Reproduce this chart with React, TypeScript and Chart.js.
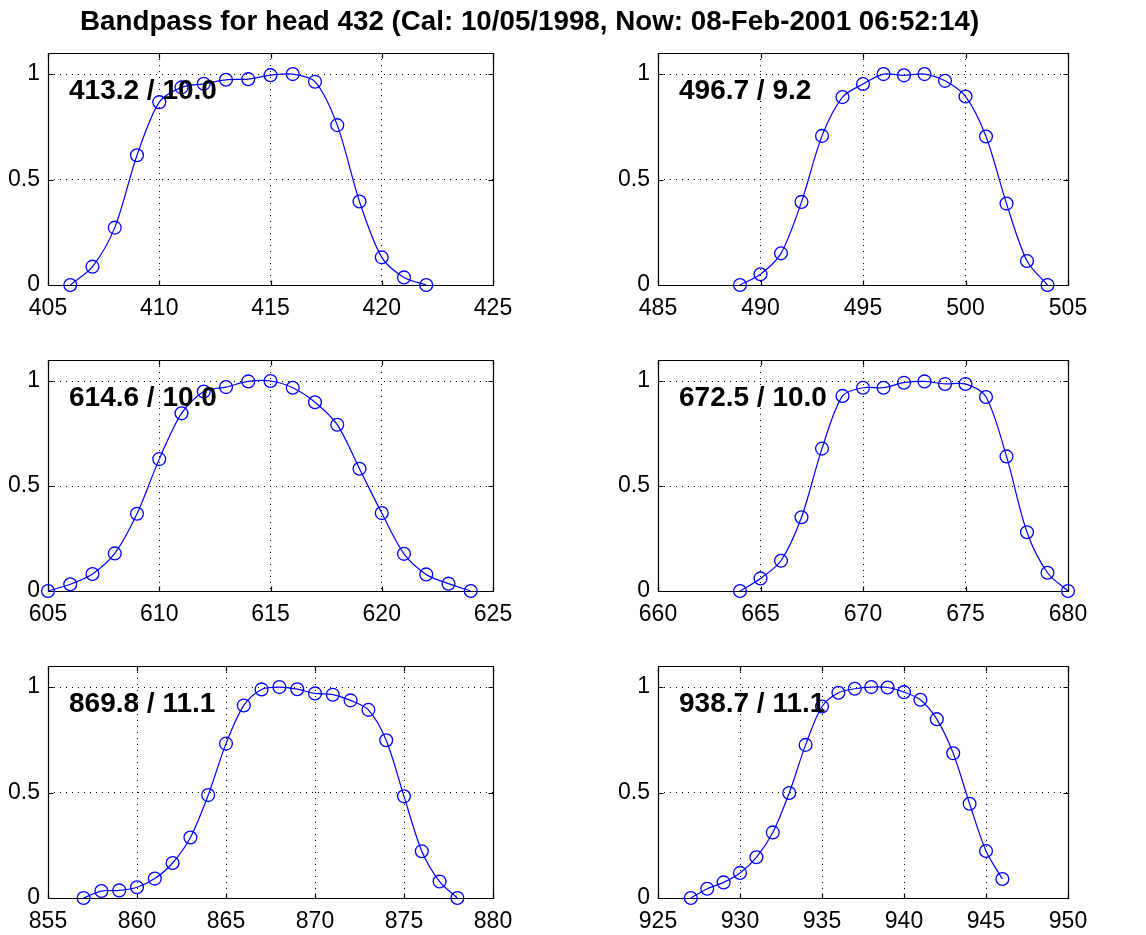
import { useEffect, useRef } from "react";
import { Chart, registerables } from "chart.js";

Chart.register(...registerables);

const TITLE = "Bandpass for head 432 (Cal: 10/05/1998, Now: 08-Feb-2001 06:52:14)";

// Panel 1
const wl1 = [406, 407, 408, 409, 410, 411, 412, 413, 414, 415, 416, 417, 418, 419, 420, 421, 422];
const resp1 = [0, 0.087, 0.272, 0.615, 0.867, 0.937, 0.954, 0.973, 0.976, 0.995, 1.0, 0.964, 0.758, 0.396, 0.131, 0.036, 0];
const xTicks1 = [405, 410, 415, 420, 425];
const label1 = "413.2 / 10.0";

// Panel 2
const wl2 = [489, 490, 491, 492, 493, 494, 495, 496, 497, 498, 499, 500, 501, 502, 503, 504];
const resp2 = [0, 0.051, 0.15, 0.394, 0.707, 0.891, 0.953, 1.0, 0.994, 1.0, 0.968, 0.894, 0.704, 0.386, 0.114, 0];
const xTicks2 = [485, 490, 495, 500, 505];
const label2 = "496.7 / 9.2";

// Panel 3
const wl3 = [605, 606, 607, 608, 609, 610, 611, 612, 613, 614, 615, 616, 617, 618, 619, 620, 621, 622, 623, 624];
const resp3 = [0, 0.032, 0.081, 0.179, 0.368, 0.628, 0.846, 0.95, 0.971, 0.998, 1.0, 0.968, 0.899, 0.792, 0.582, 0.371, 0.177, 0.079, 0.035, 0];
const xTicks3 = [605, 610, 615, 620, 625];
const label3 = "614.6 / 10.0";

// Panel 4
const wl4 = [664, 665, 666, 667, 668, 669, 670, 671, 672, 673, 674, 675, 676, 677, 678, 679, 680];
const resp4 = [0, 0.06, 0.144, 0.351, 0.678, 0.929, 0.968, 0.968, 0.992, 0.998, 0.986, 0.986, 0.924, 0.641, 0.28, 0.087, 0];
const xTicks4 = [660, 665, 670, 675, 680];
const label4 = "672.5 / 10.0";

// Panel 5
const wl5 = [857, 858, 859, 860, 861, 862, 863, 864, 865, 866, 867, 868, 869, 870, 871, 872, 873, 874, 875, 876, 877, 878];
const resp5 = [0, 0.033, 0.036, 0.051, 0.092, 0.166, 0.287, 0.488, 0.732, 0.913, 0.989, 1.0, 0.99, 0.97, 0.964, 0.937, 0.892, 0.748, 0.482, 0.222, 0.078, 0];
const xTicks5 = [855, 860, 865, 870, 875, 880];
const label5 = "869.8 / 11.1";

// Panel 6
const wl6 = [927, 928, 929, 930, 931, 932, 933, 934, 935, 936, 937, 938, 939, 940, 941, 942, 943, 944, 945, 946];
const resp6 = [0, 0.044, 0.074, 0.119, 0.193, 0.311, 0.498, 0.726, 0.908, 0.973, 0.992, 1.0, 0.998, 0.976, 0.94, 0.848, 0.686, 0.447, 0.223, 0.09];
const xTicks6 = [925, 930, 935, 940, 945, 950];
const label6 = "938.7 / 11.1";

const yTicks = [0, 0.5, 1];
const yTickLabels = ["0", "0.5", "1"];
const Y_MAX = 1.1;

const FONT = "'Liberation Sans', Arial, Helvetica, sans-serif";

const PANELS = [
  { xs: wl1, ys: resp1, ticks: xTicks1, label: label1 },
  { xs: wl2, ys: resp2, ticks: xTicks2, label: label2 },
  { xs: wl3, ys: resp3, ticks: xTicks3, label: label3 },
  { xs: wl4, ys: resp4, ticks: xTicks4, label: label4 },
  { xs: wl5, ys: resp5, ticks: xTicks5, label: label5 },
  { xs: wl6, ys: resp6, ticks: xTicks6, label: label6 },
];

// Plot-area geometry (layout)
const COL_LEFT = [48, 658];
const COL_WIDTH = [445, 410];
const ROW_TOP = [53, 360, 666];
const ROW_HEIGHT = [232, 231, 232];
const YW = 48;
const PT = 26;
const PR = 34;
const XH = 34;

function Panel({ idx }: { idx: number }) {
  const ref = useRef<HTMLCanvasElement | null>(null);
  const p = PANELS[idx];
  const col = idx % 2;
  const row = Math.floor(idx / 2);
  const L = COL_LEFT[col];
  const W = COL_WIDTH[col];
  const T = ROW_TOP[row];
  const H = ROW_HEIGHT[row];
  const cw = W + YW + PR;
  const ch = H + PT + XH;

  useEffect(() => {
    if (!ref.current) return;
    const xt = p.ticks;
    const framePlugin = {
      id: "frame" + idx,
      beforeDatasetsDraw(chart: any) {
        const { ctx, chartArea: a, scales } = chart;
        ctx.save();
        ctx.strokeStyle = "#000";
        ctx.lineWidth = 1.2;
        ctx.setLineDash([]);
        const l = Math.round(a.left) + 0.5;
        const r = Math.round(a.right) + 0.5;
        const t = Math.round(a.top) + 0.5;
        const b = Math.round(a.bottom) + 0.5;
        ctx.beginPath();
        ctx.rect(l, t, r - l, b - t);
        ctx.stroke();
        const tl = 5;
        ctx.beginPath();
        for (const v of xt) {
          const x = Math.round(scales.x.getPixelForValue(v)) + 0.5;
          ctx.moveTo(x, b);
          ctx.lineTo(x, b - tl);
          ctx.moveTo(x, t);
          ctx.lineTo(x, t + tl);
        }
        for (const v of yTicks) {
          const y = Math.round(scales.y.getPixelForValue(v)) + 0.5;
          ctx.moveTo(l, y);
          ctx.lineTo(l + tl, y);
          ctx.moveTo(r, y);
          ctx.lineTo(r - tl, y);
        }
        ctx.stroke();
        ctx.restore();
      },
      afterDatasetsDraw(chart: any) {
        const { ctx, chartArea: a } = chart;
        ctx.save();
        ctx.fillStyle = "#000";
        ctx.font = "bold 28px " + FONT;
        ctx.textAlign = "left";
        ctx.textBaseline = "alphabetic";
        ctx.fillText(p.label, a.left + 21, a.top + 46);
        ctx.restore();
      },
    };

    const chart = new Chart(ref.current, {
      type: "line",
      data: {
        datasets: [
          {
            data: p.xs.map((x, i) => ({ x, y: p.ys[i] })),
            borderColor: "#0000ff",
            borderWidth: 1.2,
            pointStyle: "circle",
            pointRadius: 6.4,
            pointBorderColor: "#0000ff",
            pointBackgroundColor: "rgba(0,0,0,0)",
            pointBorderWidth: 1.3,
            tension: 0.3,
            fill: false,
            clip: false as any,
          },
        ],
      },
      options: {
        animation: false,
        responsive: false,
        maintainAspectRatio: false,
        events: [],
        layout: { padding: { top: PT, right: PR, left: 0, bottom: 0 } },
        plugins: {
          legend: { display: false },
          tooltip: { enabled: false },
          title: { display: false },
        },
        scales: {
          x: {
            type: "linear",
            min: xt[0],
            max: xt[xt.length - 1],
            afterBuildTicks: (s: any) => {
              s.ticks = xt.map((v) => ({ value: v }));
            },
            afterFit: (s: any) => {
              s.height = XH;
            },
            grid: { color: "#000", lineWidth: 1, drawTicks: false },
            border: { display: false, dash: [1, 5] },
            ticks: {
              font: { family: FONT, size: 23 },
              color: "#000",
              padding: 10,
              maxRotation: 0,
              autoSkip: false,
              callback: (v: any) => String(v),
            },
          },
          y: {
            type: "linear",
            min: 0,
            max: Y_MAX,
            afterBuildTicks: (s: any) => {
              s.ticks = yTicks.map((v) => ({ value: v }));
            },
            afterFit: (s: any) => {
              s.width = YW;
            },
            grid: { color: "#000", lineWidth: 1, drawTicks: false },
            border: { display: false, dash: [1, 5] },
            ticks: {
              font: { family: FONT, size: 23 },
              color: "#000",
              padding: 8,
              autoSkip: false,
              callback: (v: any) => {
                const k = yTicks.indexOf(Number(v));
                return k >= 0 ? yTickLabels[k] : "";
              },
            },
          },
        },
      },
      plugins: [framePlugin],
    });
    return () => chart.destroy();
  }, [idx]);

  return (
    <canvas
      ref={ref}
      width={cw}
      height={ch}
      style={{
        position: "absolute",
        left: L - YW,
        top: T - PT,
        width: cw,
        height: ch,
      }}
    />
  );
}

export default function App() {
  return (
    <div
      style={{
        position: "fixed",
        left: 0,
        top: 0,
        width: 1146,
        height: 935,
        background: "#fff",
        overflow: "hidden",
      }}
    >
      {PANELS.map((_, i) => (
        <Panel key={i} idx={i} />
      ))}
      <div
        style={{
          position: "absolute",
          left: 80,
          top: 7,
          font: "bold 27.75px " + FONT,
          lineHeight: "28px",
          color: "#000",
          whiteSpace: "nowrap",
        }}
      >
        {TITLE}
      </div>
    </div>
  );
}
